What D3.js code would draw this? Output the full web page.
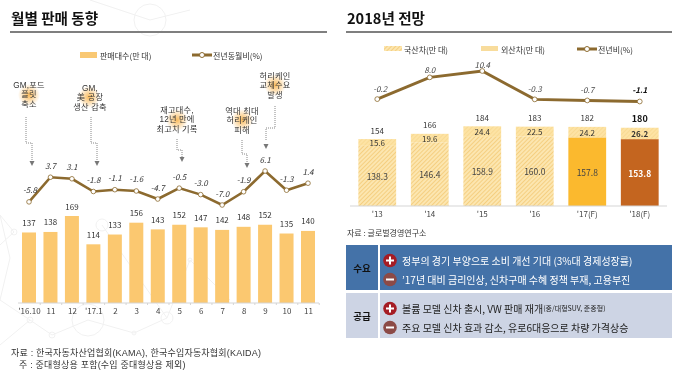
<!DOCTYPE html>
<html>
<head>
<meta charset="utf-8">
<script src="https://cdn.jsdelivr.net/npm/d3@7"></script>
<style>
  html, body { margin:0; padding:0; background:#fff; }
  svg { display:block; filter:blur(0.35px); }
  text { font-family:"Noto Sans CJK KR","Noto Sans",sans-serif; fill:#333; }
  text.note { font-family:"Liberation Sans","Noto Sans CJK KR",sans-serif; letter-spacing:0.2px; }
</style>
</head>
<body>
<svg id="chart" width="680" height="378"></svg>
<script>
// 월별 판매 동향
const months = ["'16.10","11","12","'17.1","2","3","4","5","6","7","8","9","10","11"];
const monthSales = [137,138,169,114,133,156,143,152,147,142,148,152,135,140];
const monthYoy = [-5.8,3.7,3.1,-1.8,-1.1,-1.6,-4.7,-0.5,-3.0,-7.0,-1.9,6.1,-1.3,1.4];

// 2018년 전망
const years = ["'13","'14","'15","'16","'17(F)","'18(F)"];
const domestic = [138.3,146.4,158.9,160.0,157.8,153.8];
const imported = [15.6,19.6,24.4,22.5,24.2,26.2];
const totals = [154,166,184,183,182,180];
const yearYoy = [-0.2,8.0,10.4,-0.3,-0.7,-1.1];

const svg = d3.select("#chart");
const defs = svg.append("defs");

// hatch for bars
function hatch(id, bg, fg) {
    const p = defs.append("pattern").attr("id",id).attr("width",3).attr("height",3)
        .attr("patternUnits","userSpaceOnUse").attr("patternTransform","rotate(45)");
    p.append("rect").attr("width",3).attr("height",3).attr("fill",bg);
    p.append("line").attr("x1",0).attr("y1",0).attr("x2",0).attr("y2",3).attr("stroke",fg).attr("stroke-width",1.4);
}
hatch("hatchDom","#fce6b0","#f3c56c");
hatch("hatchImp","#fde3a4","#f8d68c");

const glow = defs.append("radialGradient").attr("id","glow");
glow.append("stop").attr("offset","0%").attr("stop-color","#f9b44c").attr("stop-opacity",0.9);
glow.append("stop").attr("offset","100%").attr("stop-color","#f9b44c").attr("stop-opacity",0);

// faint background network
const bg = svg.append("g").attr("stroke","#f1f1f1").attr("fill","none");
[[0,245,14,232],[14,232,0,215],[0,215,10,258],[10,258,0,300],[0,300,30,320],[30,320,52,335],[52,335,88,320],[88,320,134,333],
 [134,333,167,318],[167,318,190,260],[102,225,167,318],[190,260,230,300],[0,345,30,320],[90,0,150,20],[150,20,190,10]].forEach(d=>{
    bg.append("line").attr("x1",d[0]).attr("y1",d[1]).attr("x2",d[2]).attr("y2",d[3]);
});
[[14,232,3],[52,335,3],[134,333,2],[167,318,6],[102,225,6],[190,260,2],[88,320,16],[150,20,16],[30,320,3]].forEach(d=>{
    bg.append("circle").attr("cx",d[0]).attr("cy",d[1]).attr("r",d[2]);
});

function title(x, x2, txt) {
    svg.append("text").attr("x",x).attr("y",24).attr("font-size",14.6).attr("font-weight",700)
        .style("fill","#111").text(txt);
    svg.append("line").attr("x1",x-1).attr("x2",x2).attr("y1",32).attr("y2",32)
        .attr("stroke","#7f7f7f").attr("stroke-width",2);
}
title(11,327,"월별 판매 동향");
title(347,672,"2018년 전망");

function label(x, y, txt, size, opts={}) {
    return svg.append("text").attr("x",x).attr("y",y).attr("text-anchor",opts.anchor||"middle")
        .attr("dominant-baseline","central").attr("font-size",size)
        .attr("font-weight",opts.weight||400).attr("font-style",opts.style||"normal")
        .style("fill",opts.fill||"#333").text(txt);
}

function lineKey(x1, x2, y) {
    svg.append("line").attr("x1",x1).attr("x2",x2).attr("y1",y).attr("y2",y)
        .attr("stroke","#8c6a2f").attr("stroke-width",3);
    svg.append("circle").attr("cx",(x1+x2)/2).attr("cy",y).attr("r",2.5)
        .attr("fill","#fff").attr("stroke","#8c6a2f").attr("stroke-width",1);
}

/* ===== 왼쪽 차트 ===== */
const xL = d3.scalePoint().domain(d3.range(months.length)).range([29,308]);
const barL = d3.scaleLinear().domain([0,169]).range([303,216]);
const lineL = d3.scaleLinear().domain([-7,6.1]).range([205,171]);

svg.append("rect").attr("x",80).attr("y",52).attr("width",17).attr("height",6).attr("fill","#f9c873");
label(100,55,"판매대수(만 대)",8,{anchor:"start"});
lineKey(192,212,55);
label(213,55,"전년동월비(%)",8,{anchor:"start"});

svg.append("g").selectAll("rect").data(monthSales).join("rect")
    .attr("x",(d,i)=>xL(i)-7).attr("width",14)
    .attr("y",d=>barL(d)).attr("height",d=>barL(0)-barL(d))
    .attr("fill","#fbc870");
svg.append("g").selectAll("text").data(monthSales).join("text")
    .attr("x",(d,i)=>xL(i)).attr("y",d=>barL(d)-10)
    .attr("text-anchor","middle").attr("dominant-baseline","central")
    .attr("font-size",8).text(d=>d);

const axisL = d3.axisBottom(xL).tickSize(2).tickPadding(3).tickFormat(i=>months[i]);
const gL = svg.append("g").attr("transform","translate(0,303)").call(axisL);
gL.select(".domain").attr("d","M18,0H319").attr("stroke","#d5d5d5");
gL.selectAll(".tick line").attr("stroke","#d5d5d5").attr("x1",xL.step()/2).attr("x2",xL.step()/2);
gL.selectAll("text").attr("font-size",8).style("fill","#444");

const pathL = d3.line().x((d,i)=>xL(i)).y(d=>lineL(d));
svg.append("path").attr("d",pathL(monthYoy)).attr("fill","none")
    .attr("stroke","#8c6a2f").attr("stroke-width",2.6);
svg.append("g").selectAll("circle").data(monthYoy).join("circle")
    .attr("cx",(d,i)=>xL(i)).attr("cy",d=>lineL(d)).attr("r",2.3)
    .attr("fill","#fff").attr("stroke","#8c6a2f").attr("stroke-width",0.8);
svg.append("g").selectAll("text").data(monthYoy).join("text")
    .attr("x",(d,i)=>xL(i)+(i===0?1:0)).attr("y",d=>lineL(d)-12)
    .attr("text-anchor","middle").attr("dominant-baseline","central")
    .attr("font-size",8).attr("font-style","italic").text(d=>d.toFixed(1));

// 주석
const notes = [
    { lines:["GM,포드","플릿","축소"], cx:29, y:85, glow:[29,95], path:"M26,117V143H32V160", tip:[32,166] },
    { lines:["GM,","美 공장","생산 감축"], cx:90, y:88, glow:[89,97], path:"M91,117V143H97V160", tip:[97,166] },
    { lines:["재고대수,","12년 만에","최고치 기록"], cx:177, y:110, glow:[177,120], path:"M177,139V150H182V157", tip:[182,162] },
    { lines:["역대 최대","허리케인","피해"], cx:242, y:111, glow:[242,120], path:"M242,140V154H247V162", tip:[247,168] },
    { lines:["허리케인","교체수요","발생"], cx:275, y:76, glow:[275,85], path:"M275,106V128H266V141", tip:[266,149] }
];
notes.forEach(n=>{
    svg.append("circle").attr("cx",n.glow[0]).attr("cy",n.glow[1]).attr("r",11).attr("fill","url(#glow)");
    n.lines.forEach((t,i)=>label(n.cx,n.y+i*9.6,t,8.2).attr("class","note"));
    svg.append("path").attr("d",n.path).attr("fill","none")
        .attr("stroke","#888").attr("stroke-width",1).attr("stroke-dasharray","1 1");
    const [tx,ty] = n.tip;
    svg.append("path").attr("d",`M${tx-2.5},${ty-5}H${tx+2.5}L${tx},${ty}Z`).attr("fill","#777");
});

label(11,352.5,"자료 : 한국자동차산업협회(KAMA), 한국수입자동차협회(KAIDA)",9,{anchor:"start"}).attr("class","note");
label(19,364.5,"주 : 중대형상용 포함(수입 중대형상용 제외)",9,{anchor:"start"}).attr("class","note");

/* ===== 오른쪽 차트 ===== */
const xR = d3.scaleBand().domain(years).range([351,666]).paddingInner(0.28).paddingOuter(0.14);
const barR = d3.scaleLinear().domain([0,184]).range([206,126]);
const lineR = d3.scaleLinear().domain([-1.1,10.4]).range([101.5,71]);
const midR = y=>xR(y)+xR.bandwidth()/2;

svg.append("rect").attr("x",384).attr("y",46).attr("width",18).attr("height",5).attr("fill","url(#hatchDom)");
label(404,49,"국산차(만 대)",8,{anchor:"start"});
svg.append("rect").attr("x",481).attr("y",46).attr("width",17).attr("height",5).attr("fill","#f8dc9c");
label(501,49,"외산차(만 대)",8,{anchor:"start"});
lineKey(577,597,49);
label(598,49,"전년비(%)",8,{anchor:"start"});

const domFill = ["url(#hatchDom)","url(#hatchDom)","url(#hatchDom)","url(#hatchDom)","#fbb92e","#c4651f"];

svg.append("g").selectAll("rect").data(domestic).join("rect")
    .attr("x",(d,i)=>xR(years[i])).attr("width",xR.bandwidth())
    .attr("y",d=>barR(d)).attr("height",d=>barR(0)-barR(d))
    .attr("fill",(d,i)=>domFill[i]);
svg.append("g").selectAll("rect").data(imported).join("rect")
    .attr("x",(d,i)=>xR(years[i])).attr("width",xR.bandwidth())
    .attr("y",(d,i)=>barR(domestic[i]+d)).attr("height",d=>barR(0)-barR(d))
    .attr("fill","url(#hatchImp)");

domestic.forEach((d,i)=>{
    label(midR(years[i]),barR(d/2),d.toFixed(1),8.5,{fill:i===5?"#fff":"#444",weight:i===5?700:400});
    label(midR(years[i]),barR(d+imported[i]/2),imported[i].toFixed(1),8,{fill:"#333",weight:i===5?700:400});
    label(midR(years[i]),barR(totals[i])-9,totals[i],i===5?9:8,{fill:i===5?"#111":"#333",weight:i===5?700:400});
});

const axisR = d3.axisBottom(xR).tickSize(0).tickPadding(5);
const gR = svg.append("g").attr("transform","translate(0,206)").call(axisR);
gR.select(".domain").attr("d","M350,0H667").attr("stroke","#d5d5d5");
gR.selectAll("text").attr("font-size",8).style("fill","#444");

const pathR = d3.line().x((d,i)=>midR(years[i])).y(d=>lineR(d));
svg.append("path").attr("d",pathR(yearYoy)).attr("fill","none")
    .attr("stroke","#8c6a2f").attr("stroke-width",3);
svg.append("g").selectAll("circle").data(yearYoy).join("circle")
    .attr("cx",(d,i)=>midR(years[i])).attr("cy",d=>lineR(d)).attr("r",2.4)
    .attr("fill","#fff").attr("stroke","#8c6a2f").attr("stroke-width",0.8);
const yoyGap = [11,8,7,11,11,12];
yearYoy.forEach((d,i)=>{
    label(midR(years[i])+(i===0?3:0),lineR(d)-yoyGap[i],d.toFixed(1),8,
        {style:"italic",weight:i===5?700:400,fill:i===5?"#111":"#444"});
});

label(347,232,"자료 : 글로벌경영연구소",8,{anchor:"start"});

/* ===== 수요 / 공급 표 ===== */
const rows = [
    { name:"수요", y:245, cell:"#4472a8", text:"#fff", items:[
        {sign:"+", txt:"정부의 경기 부양으로 소비 개선 기대 (3%대 경제성장률)"},
        {sign:"-", txt:"’17년 대비 금리인상, 신차구매 수혜 정책 부재, 고용부진"}] },
    { name:"공급", y:293, cell:"#cdd4e4", text:"#222", items:[
        {sign:"+", txt:"볼륨 모델 신차 출시, VW 판매 재개", small:"(중/대형SUV, 준중형)"},
        {sign:"-", txt:"주요 모델 신차 효과 감소, 유로6대응으로 차량 가격상승"}] }
];
rows.forEach(r=>{
    svg.append("rect").attr("x",346).attr("y",r.y).attr("width",32).attr("height",45).attr("fill",r.cell);
    svg.append("rect").attr("x",380).attr("y",r.y).attr("width",292).attr("height",45).attr("fill",r.cell);
    label(362,r.y+23,r.name,9.5,{weight:700,fill:"#111"});
    r.items.forEach((it,i)=>{
        const cy = r.y + 15.5 + i*19;
        const plus = it.sign==="+";
        svg.append("circle").attr("cx",390).attr("cy",cy).attr("r",6.8).attr("fill",plus?"#a51c24":"#8c4a46");
        svg.append("rect").attr("x",386).attr("y",cy-1).attr("width",8).attr("height",2).attr("fill","#fff");
        if (plus) svg.append("rect").attr("x",389).attr("y",cy-4).attr("width",2).attr("height",8).attr("fill","#fff");
        const t = label(402,cy-0.5,it.txt,10,{anchor:"start",fill:r.text});
        if (it.small) t.append("tspan").attr("font-size",7).text(it.small);
    });
});
</script>
</body>
</html>
